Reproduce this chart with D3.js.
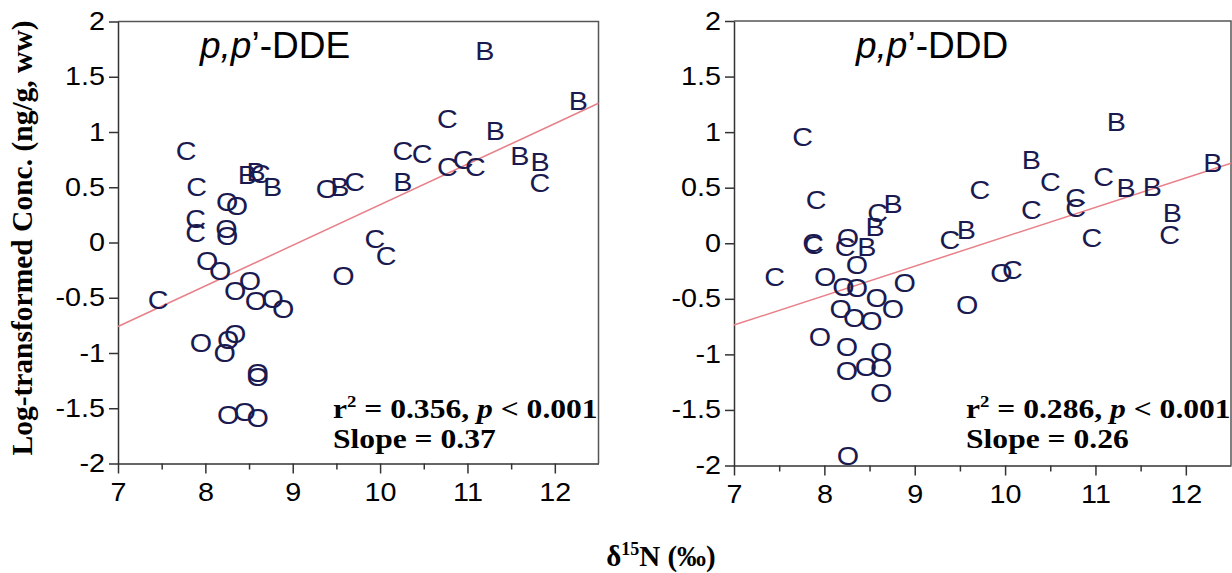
<!DOCTYPE html>
<html>
<head>
<meta charset="utf-8">
<script src="https://cdn.jsdelivr.net/npm/d3@7"></script>
<style>
  body { margin: 0; background: #fff; }
  svg { display: block; }
</style>
</head>
<body>
<script>
// p,p'-DDE panel: d15N, log conc, group letter
const ddeX = [11.20, 12.27, 10.77, 11.32, 7.78, 10.26, 10.48, 11.60, 11.83, 10.77, 10.95, 11.09,
  10.26, 11.83, 9.71, 9.54, 9.39, 7.90, 8.48, 8.58, 8.63, 8.77, 8.25, 8.36,
  7.89, 7.89, 8.24, 8.25, 9.94, 10.07, 8.02, 8.17, 9.58, 7.46, 8.51, 8.34,
  8.58, 8.77, 8.89, 7.95, 8.34, 8.26, 8.22, 8.60, 8.60, 8.26, 8.45, 8.60];
const ddeY = [1.73, 1.28, 1.12, 1.01, 0.83, 0.83, 0.80, 0.78, 0.73, 0.68, 0.75, 0.68,
  0.55, 0.54, 0.55, 0.50, 0.48, 0.50, 0.61, 0.64, 0.62, 0.50, 0.37, 0.33,
  0.21, 0.09, 0.12, 0.06, 0.03, -0.12, -0.17, -0.26, -0.30, -0.52, -0.35, -0.44,
  -0.53, -0.51, -0.60, -0.91, -0.83, -0.88, -1.00, -1.18, -1.22, -1.56, -1.53, -1.59];
const ddeGroup = ["B","B","C","B","C","C","C","B","B","C","C","C",
  "B","C","C","B","O","C","B","B","C","B","O","O",
  "C","C","O","O","C","C","O","O","O","C","O","O",
  "O","O","O","O","O","O","O","O","O","O","O","O"];
const ddeFit = [[7, -0.76], [12.5, 1.26]];

// p,p'-DDD panel
const dddX = [7.76, 11.23, 7.91, 8.76, 8.59, 8.56, 9.72, 10.29, 10.50, 11.09, 11.34, 11.63,
  12.30, 10.29, 10.78, 10.78, 11.85, 11.82, 10.96, 9.39, 9.57, 7.87, 7.88, 8.26,
  8.23, 8.47, 7.45, 8.01, 8.36, 8.21, 8.36, 8.89, 8.58, 8.18, 8.76, 8.33,
  8.52, 9.58, 7.95, 8.25, 8.63, 8.25, 8.46, 8.63, 8.63, 8.26, 9.96, 10.08];
const dddY = [0.96, 1.09, 0.39, 0.35, 0.27, 0.15, 0.48, 0.75, 0.55, 0.60, 0.50, 0.51,
  0.72, 0.30, 0.41, 0.32, 0.27, 0.07, 0.05, 0.03, 0.12, 0.00, -0.02, 0.05,
  -0.03, -0.03, -0.30, -0.30, -0.20, -0.39, -0.40, -0.36, -0.49, -0.59, -0.59, -0.67,
  -0.70, -0.56, -0.84, -0.93, -0.98, -1.15, -1.11, -1.12, -1.35, -1.91, -0.27, -0.24];
const dddGroup = ["C","B","C","B","C","B","C","B","C","C","B","B",
  "B","C","C","C","B","C","C","C","B","C","C","O",
  "C","B","C","O","O","O","O","O","O","O","O","O",
  "O","O","O","O","O","O","O","O","O","O","O","C"];
const dddFit = [[7, -0.736], [12.5, 0.72]];

const xTicks = [7, 8, 9, 10, 11, 12];
const xMinorTicks = [7.5, 8.5, 9.5, 10.5, 11.5];
const yTicks = [-2, -1.5, -1, -0.5, 0, 0.5, 1, 1.5, 2];
const yTickLabels = ["-2", "-1.5", "-1", "-0.5", "0", "0.5", "1", "1.5", "2"];

const panelTitles = ["DDE", "DDD"];
const r2Text = ["0.356", "0.286"];
const slopeText = ["0.37", "0.26"];

const width = 1232, height = 573;
const sx = 1.15; // source figure text is a bit wide
const sans = "'Liberation Sans', Arial, sans-serif";
const serif = "'Liberation Serif', 'Times New Roman', serif";
const ink = "#1a1a50";

const svg = d3.select("body").append("svg")
  .attr("width", width).attr("height", height);

const panels = [
  {xs: ddeX, ys: ddeY, gs: ddeGroup, fit: ddeFit, left: 118, right: 598.5, top: 21.5, bottom: 463.5, titleX: 200, statX: 333},
  {xs: dddX, ys: dddY, gs: dddGroup, fit: dddFit, left: 734, right: 1231, top: 21, bottom: 465.5, titleX: 856, statX: 966}
];

panels.forEach(function(p, k) {
  const x = d3.scaleLinear().domain([7, 12.5]).range([p.left, p.right]);
  const y = d3.scaleLinear().domain([-2, 2]).range([p.bottom, p.top]);
  const g = svg.append("g");

  // frame (top + right)
  g.append("path")
    .attr("d", `M${p.left},${p.top}H${p.right}V${p.bottom}`)
    .attr("fill", "none").attr("stroke", "#555").attr("stroke-width", 1.5);

  // y axis
  const ya = g.append("g")
    .attr("transform", `translate(${p.left},0)`)
    .call(d3.axisLeft(y).tickValues(yTicks).tickSize(9).tickPadding(4).tickSizeOuter(0)
      .tickFormat((d, i) => yTickLabels[i]));
  ya.selectAll("path, line").attr("stroke", "#333").attr("stroke-width", 1.5);
  ya.selectAll("text")
    .attr("x", -13 / sx)
    .attr("transform", `scale(${sx},1)`)
    .style("font", `25px ${sans}`).attr("fill", "#000");

  // x axis, minor then major
  const xm = g.append("g")
    .attr("transform", `translate(0,${p.bottom})`)
    .call(d3.axisBottom(x).tickValues(xMinorTicks).tickSize(6).tickFormat("").tickSizeOuter(0));
  xm.select(".domain").remove();
  xm.selectAll("line").attr("stroke", "#333").attr("stroke-width", 1.5);

  const xa = g.append("g")
    .attr("transform", `translate(0,${p.bottom})`)
    .call(d3.axisBottom(x).tickValues(xTicks).tickSize(10).tickPadding(10).tickSizeOuter(0)
      .tickFormat(d3.format("d")));
  xa.selectAll("path, line").attr("stroke", "#333").attr("stroke-width", 1.5);
  xa.selectAll("text")
    .attr("transform", `scale(${sx},1)`)
    .style("font", `25px ${sans}`).attr("fill", "#000");

  // regression line
  g.append("path")
    .datum(p.fit)
    .attr("d", d3.line().x(d => x(d[0])).y(d => y(d[1])))
    .attr("fill", "none").attr("stroke", "#e8808a").attr("stroke-width", 1.5);

  // letter markers
  g.append("g")
    .attr("fill", ink)
    .style("font", `25px ${sans}`)
    .attr("text-anchor", "middle")
    .selectAll("text")
    .data(d3.range(p.xs.length))
    .join("text")
      .attr("transform", i => `translate(${x(p.xs[i])},${y(p.ys[i])}) scale(${sx},1)`)
      .attr("dy", "0.36em")
      .text(i => p.gs[i]);

  // panel title
  const t = g.append("text")
    .attr("x", p.titleX).attr("y", 58)
    .style("font", `37px ${sans}`).attr("fill", "#000");
  t.append("tspan").style("font-style", "italic").text("p,p");
  t.append("tspan").text("\u2019-" + panelTitles[k]);

  // stats
  const s1 = g.append("text")
    .attr("transform", `translate(${p.statX},418) scale(1.17,1)`)
    .style("font", `bold 27px ${serif}`).attr("fill", "#000");
  s1.append("tspan").text("r");
  s1.append("tspan").attr("font-size", "16px").attr("dy", -11).text("2");
  s1.append("tspan").attr("dy", 11).text(" = " + r2Text[k] + ", ");
  s1.append("tspan").style("font-style", "italic").text("p");
  s1.append("tspan").text(" < 0.001");

  g.append("text")
    .attr("transform", `translate(${p.statX},448) scale(1.17,1)`)
    .style("font", `bold 27px ${serif}`).attr("fill", "#000")
    .text("Slope = " + slopeText[k]);
});

// axis titles
svg.append("text")
  .attr("transform", "translate(32,238) rotate(-90)")
  .attr("text-anchor", "middle")
  .style("font", `bold 29.5px ${serif}`)
  .text("Log-transformed Conc. (ng/g, ww)");

const xt = svg.append("text")
  .attr("x", 661).attr("y", 566)
  .attr("text-anchor", "middle")
  .style("font", `bold 29px ${serif}`);
xt.append("tspan").text("\u03b4");
xt.append("tspan").attr("font-size", "18px").attr("dy", -11).text("15");
xt.append("tspan").attr("dy", 11).text("N (\u2030)");
</script>
</body>
</html>
